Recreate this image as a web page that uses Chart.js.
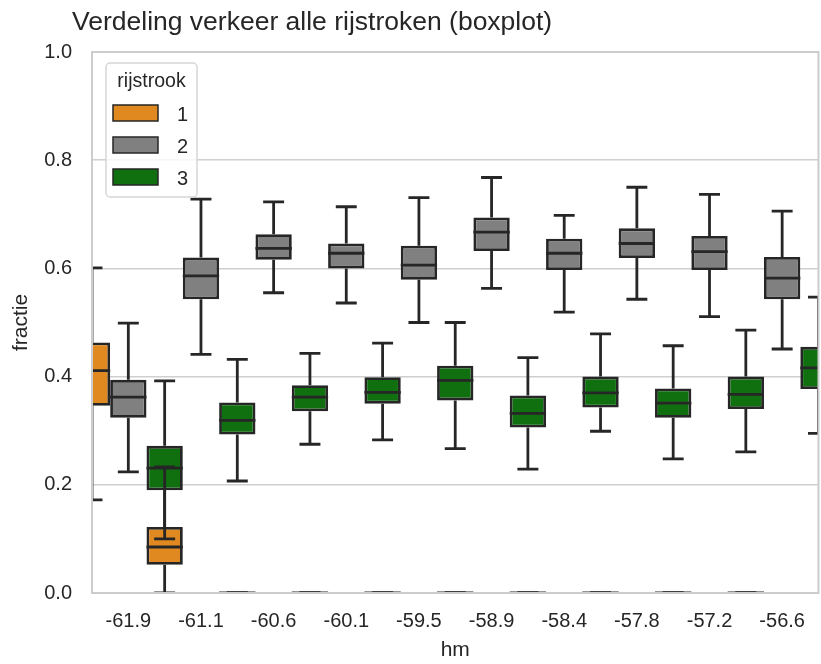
<!DOCTYPE html>
<html>
<head>
<meta charset="utf-8">
<script src="https://cdn.jsdelivr.net/npm/chart.js@4/dist/chart.umd.min.js"></script>
<style>
  html, body { margin: 0; padding: 0; background: #ffffff; }
  #wrap { width: 821px; height: 664px; position: relative; }
</style>
</head>
<body>
<div id="wrap"><canvas id="chart" width="821" height="664"></canvas></div>
<script>
// Hectometre positions along the road (categories on the x axis)
const hm = ['-61.9', '-61.1', '-60.6', '-60.1', '-59.5', '-58.9', '-58.4', '-57.8', '-57.2', '-56.6'];

// Lane 1: five-number summaries per hm (whisker low, Q1, median, Q3, whisker high)
const lane1Low    = [0.172, 0.000, 0, 0, 0, 0, 0, 0, 0, 0];
const lane1Q1     = [0.346, 0.052, 0, 0, 0, 0, 0, 0, 0, 0];
const lane1Median = [0.411, 0.085, 0, 0, 0, 0, 0, 0, 0, 0];
const lane1Q3     = [0.463, 0.122, 0, 0, 0, 0, 0, 0, 0, 0];
const lane1High   = [0.601, 0.233, 0, 0, 0, 0, 0, 0, 0, 0];

// Lane 2
const lane2Low    = [0.224, 0.441, 0.555, 0.536, 0.500, 0.563, 0.519, 0.543, 0.511, 0.451];
const lane2Q1     = [0.324, 0.543, 0.616, 0.600, 0.579, 0.632, 0.597, 0.619, 0.597, 0.543];
const lane2Median = [0.362, 0.586, 0.637, 0.628, 0.606, 0.667, 0.628, 0.646, 0.631, 0.582];
const lane2Q3     = [0.394, 0.620, 0.663, 0.646, 0.642, 0.694, 0.655, 0.674, 0.660, 0.621];
const lane2High   = [0.499, 0.728, 0.723, 0.714, 0.731, 0.768, 0.698, 0.750, 0.737, 0.706];

// Lane 3
const lane3Low    = [0.100, 0.207, 0.275, 0.283, 0.267, 0.229, 0.299, 0.248, 0.261, 0.295];
const lane3Q1     = [0.190, 0.293, 0.336, 0.350, 0.356, 0.306, 0.343, 0.324, 0.340, 0.377];
const lane3Median = [0.231, 0.319, 0.362, 0.371, 0.393, 0.332, 0.370, 0.351, 0.367, 0.416];
const lane3Q3     = [0.272, 0.352, 0.384, 0.399, 0.420, 0.365, 0.400, 0.378, 0.400, 0.455];
const lane3High   = [0.392, 0.432, 0.443, 0.462, 0.500, 0.435, 0.479, 0.457, 0.486, 0.547];

const laneNames  = ['1', '2', '3'];
const laneColors = ['#df8920', '#808080', '#107010'];

const FONT = "'Liberation Sans', Arial, Helvetica, sans-serif";
const INK = '#262626';
const EDGE = '#262626';
const SPINE = '#cccccc';
const LINE_W = 2.8;

const lanes = [
  { low: lane1Low, q1: lane1Q1, median: lane1Median, q3: lane1Q3, high: lane1High },
  { low: lane2Low, q1: lane2Q1, median: lane2Median, q3: lane2Q3, high: lane2High },
  { low: lane3Low, q1: lane3Q1, median: lane3Median, q3: lane3Q3, high: lane3High }
];

// Whiskers, caps and medians on top of all boxes
const whiskerPlugin = {
  id: 'whiskers',
  afterDatasetsDraw(chart) {
    const { ctx, chartArea: a, scales: { y } } = chart;
    ctx.save();
    ctx.beginPath();
    ctx.rect(a.left, a.top, a.right - a.left, a.bottom - a.top);
    ctx.clip();
    ctx.strokeStyle = EDGE;
    ctx.lineWidth = LINE_W;
    const seg = (x1, y1, x2, y2, cap) => {
      ctx.lineCap = cap;
      ctx.beginPath();
      ctx.moveTo(x1, y1);
      ctx.lineTo(x2, y2);
      ctx.stroke();
    };
    hm.forEach((_, i) => {
      lanes.forEach((s, d) => {
        const el = chart.getDatasetMeta(d).data[i];
        if (!el) return;
        const { x: cx, width: w } = el.getProps(['x', 'width'], true);
        const yLo = y.getPixelForValue(s.low[i]);
        const yQ1 = y.getPixelForValue(s.q1[i]);
        const yMed = y.getPixelForValue(s.median[i]);
        const yQ3 = y.getPixelForValue(s.q3[i]);
        const yHi = y.getPixelForValue(s.high[i]);
        seg(cx, yQ1, cx, yLo, 'butt');
        seg(cx, yQ3, cx, yHi, 'butt');
        seg(cx - w / 4, yLo, cx + w / 4, yLo, 'square');
        seg(cx - w / 4, yHi, cx + w / 4, yHi, 'square');
        seg(cx - w / 2, yMed, cx + w / 2, yMed, 'butt');
      });
    });
    ctx.restore();
  }
};

// Light frame round the plot area, drawn above the marks
const framePlugin = {
  id: 'frame',
  afterDatasetsDraw(chart) {
    const { ctx, chartArea: a } = chart;
    ctx.save();
    ctx.strokeStyle = SPINE;
    ctx.lineWidth = 2;
    ctx.strokeRect(a.left, a.top, a.right - a.left, a.bottom - a.top);
    ctx.restore();
  }
};

// Chart heading
const headingPlugin = {
  id: 'heading',
  afterDraw(chart) {
    const { ctx } = chart;
    ctx.save();
    ctx.fillStyle = INK;
    ctx.font = '26.5px ' + FONT;
    ctx.textAlign = 'left';
    ctx.textBaseline = 'alphabetic';
    ctx.fillText('Verdeling verkeer alle rijstroken (boxplot)', 72, 30);
    ctx.restore();
  }
};

// Legend box with the lane swatches
const laneLegendPlugin = {
  id: 'laneLegend',
  afterDraw(chart) {
    const { ctx } = chart;
    const x0 = 106, y0 = 63, w = 91, h = 134, r = 4;
    ctx.save();
    ctx.beginPath();
    ctx.roundRect(x0, y0, w, h, r);
    ctx.fillStyle = 'rgba(255,255,255,0.8)';
    ctx.fill();
    ctx.strokeStyle = '#d6d6d6';
    ctx.lineWidth = 1.5;
    ctx.stroke();

    ctx.fillStyle = INK;
    ctx.font = '19.5px ' + FONT;
    ctx.textAlign = 'center';
    ctx.textBaseline = 'alphabetic';
    ctx.fillText('rijstrook', x0 + w / 2, 87);

    chart.data.datasets.forEach((ds, k) => {
      const py = 105 + k * 32;
      ctx.fillStyle = ds.backgroundColor;
      ctx.fillRect(113, py, 45, 16);
      ctx.strokeStyle = EDGE;
      ctx.lineWidth = 1.5;
      ctx.strokeRect(113, py, 45, 16);
      ctx.fillStyle = INK;
      ctx.font = '20px ' + FONT;
      ctx.textAlign = 'left';
      ctx.fillText(ds.label, 177, py + 15.5);
    });
    ctx.restore();
  }
};

new Chart(document.getElementById('chart'), {
  type: 'bar',
  data: {
    labels: hm,
    datasets: lanes.map((s, d) => ({
      label: laneNames[d],
      data: s.q1.map((v, i) => [v, s.q3[i]]),
      backgroundColor: laneColors[d],
      borderColor: EDGE,
      borderWidth: LINE_W,
      borderSkipped: false,
      clip: 0
    }))
  },
  options: {
    responsive: false,
    animation: false,
    devicePixelRatio: 1,
    layout: { padding: { top: 52, right: 1, left: 0, bottom: 0 } },
    datasets: { bar: { categoryPercentage: 1.5, barPercentage: 1 } },
    plugins: {
      legend: { display: false },
      title: { display: false },
      tooltip: { enabled: false }
    },
    scales: {
      x: {
        type: 'category',
        offset: true,
        grid: { display: false, drawTicks: false },
        border: { display: false },
        ticks: { color: INK, font: { family: FONT, size: 20 }, padding: 16, maxRotation: 0, autoSkip: false },
        title: { display: true, text: 'hm', color: INK, font: { family: FONT, size: 21 }, padding: { top: 0, bottom: 1 } },
        afterFit(scale) { scale.height = 71; }
      },
      y: {
        min: 0,
        max: 1,
        grid: { color: '#cfcfcf', lineWidth: 1.5, drawTicks: false },
        border: { display: false },
        ticks: {
          stepSize: 0.2,
          color: INK,
          font: { family: FONT, size: 20 },
          padding: 20,
          callback: v => Number(v).toFixed(1)
        },
        title: { display: true, text: 'fractie', color: INK, font: { family: FONT, size: 21 }, padding: { top: 9, bottom: 0 } },
        afterFit(scale) { scale.width = 92; }
      }
    }
  },
  plugins: [whiskerPlugin, framePlugin, headingPlugin, laneLegendPlugin]
});
</script>
</body>
</html>
